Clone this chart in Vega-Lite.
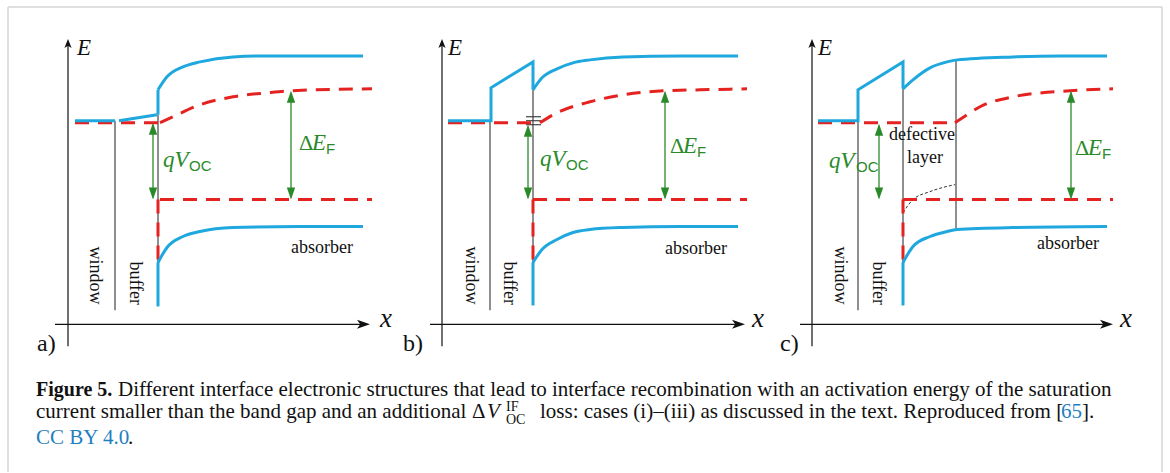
{
  "$schema": "https://vega.github.io/schema/vega-lite/v6.json",
  "width": 1170,
  "height": 473,
  "autosize": {"type": "fit", "contains": "padding"},
  "padding": 0,
  "background": "white",
  "config": {"view": {"stroke": null}},
  "datasets": {
    "frame": [
      {"x": 8, "y": 7, "x2": 1162, "y2": 7},
      {"x": 8, "y": 7, "x2": 8, "y2": 473},
      {"x": 1162, "y": 7, "x2": 1162, "y2": 473}
    ],
    "axes": [
      {"x": 68, "y": 44, "x2": 68, "y2": 347},
      {"x": 55, "y": 325, "x2": 364, "y2": 325},
      {"x": 442, "y": 44, "x2": 442, "y2": 347},
      {"x": 430, "y": 325, "x2": 739, "y2": 325},
      {"x": 812, "y": 44, "x2": 812, "y2": 347},
      {"x": 800, "y": 325, "x2": 1107, "y2": 325}
    ],
    "axisUp": [{"x": 68, "y": 39}, {"x": 442, "y": 39}, {"x": 812, "y": 39}],
    "axisRight": [{"x": 370, "y": 325}, {"x": 745, "y": 325}, {"x": 1113, "y": 325}],
    "thin": [
      {"x": 115, "y": 121, "x2": 115, "y2": 311},
      {"x": 158, "y": 115, "x2": 158, "y2": 307},
      {"x": 490, "y": 121, "x2": 490, "y2": 311},
      {"x": 533, "y": 90, "x2": 533, "y2": 306},
      {"x": 858, "y": 121, "x2": 858, "y2": 311},
      {"x": 903, "y": 89, "x2": 903, "y2": 306},
      {"x": 956, "y": 60, "x2": 956, "y2": 229},
      {"x": 526, "y": 117, "x2": 541, "y2": 117},
      {"x": 526, "y": 121, "x2": 541, "y2": 121},
      {"x": 526, "y": 125, "x2": 541, "y2": 125}
    ],
    "dotted": [
      {"x": 903, "y": 213}, {"x": 913, "y": 200}, {"x": 930, "y": 192}, {"x": 955, "y": 185}
    ],
    "blueStraight": [
      {"s": "a1", "o": 1, "x": 75, "y": 121}, {"s": "a1", "o": 2, "x": 115, "y": 121},
      {"s": "a2", "o": 1, "x": 119, "y": 121}, {"s": "a2", "o": 2, "x": 157, "y": 115},
      {"s": "a3", "o": 1, "x": 158, "y": 90}, {"s": "a3", "o": 2, "x": 158, "y": 115},
      {"s": "a4", "o": 1, "x": 158, "y": 263}, {"s": "a4", "o": 2, "x": 158, "y": 307},
      {"s": "b1", "o": 1, "x": 448, "y": 121}, {"s": "b1", "o": 2, "x": 491, "y": 121},
      {"s": "b1", "o": 3, "x": 491, "y": 88}, {"s": "b1", "o": 4, "x": 533, "y": 62},
      {"s": "b1", "o": 5, "x": 533, "y": 90},
      {"s": "b2", "o": 1, "x": 533, "y": 263}, {"s": "b2", "o": 2, "x": 533, "y": 306},
      {"s": "c1", "o": 1, "x": 818, "y": 121}, {"s": "c1", "o": 2, "x": 858, "y": 121},
      {"s": "c1", "o": 3, "x": 858, "y": 90}, {"s": "c1", "o": 4, "x": 903, "y": 62},
      {"s": "c1", "o": 5, "x": 903, "y": 89},
      {"s": "c2", "o": 1, "x": 903, "y": 263}, {"s": "c2", "o": 2, "x": 903, "y": 306}
    ],
    "blueCurve": [
      {"s": "acb", "x": 158, "y": 90}, {"s": "acb", "x": 167, "y": 77}, {"s": "acb", "x": 183, "y": 67},
      {"s": "acb", "x": 200, "y": 62}, {"s": "acb", "x": 233, "y": 57}, {"s": "acb", "x": 267, "y": 56},
      {"s": "acb", "x": 363, "y": 56},
      {"s": "avb", "x": 158, "y": 263}, {"s": "avb", "x": 167, "y": 248}, {"s": "avb", "x": 183, "y": 237},
      {"s": "avb", "x": 200, "y": 232}, {"s": "avb", "x": 233, "y": 228}, {"s": "avb", "x": 300, "y": 227},
      {"s": "avb", "x": 363, "y": 227},
      {"s": "bcb", "x": 533, "y": 90}, {"s": "bcb", "x": 542, "y": 78}, {"s": "bcb", "x": 557, "y": 69},
      {"s": "bcb", "x": 573, "y": 63}, {"s": "bcb", "x": 590, "y": 60}, {"s": "bcb", "x": 623, "y": 57},
      {"s": "bcb", "x": 680, "y": 56}, {"s": "bcb", "x": 738, "y": 56},
      {"s": "bvb", "x": 533, "y": 263}, {"s": "bvb", "x": 542, "y": 250}, {"s": "bvb", "x": 557, "y": 240},
      {"s": "bvb", "x": 573, "y": 233}, {"s": "bvb", "x": 590, "y": 230}, {"s": "bvb", "x": 623, "y": 228},
      {"s": "bvb", "x": 680, "y": 227}, {"s": "bvb", "x": 738, "y": 227},
      {"s": "ccb", "x": 903, "y": 89}, {"s": "ccb", "x": 913, "y": 80}, {"s": "ccb", "x": 930, "y": 68},
      {"s": "ccb", "x": 947, "y": 62}, {"s": "ccb", "x": 957, "y": 60}, {"s": "ccb", "x": 1013, "y": 57},
      {"s": "ccb", "x": 1060, "y": 56}, {"s": "ccb", "x": 1107, "y": 56},
      {"s": "cvb", "x": 903, "y": 263}, {"s": "cvb", "x": 913, "y": 247}, {"s": "cvb", "x": 930, "y": 237},
      {"s": "cvb", "x": 947, "y": 232}, {"s": "cvb", "x": 957, "y": 230}, {"s": "cvb", "x": 1013, "y": 228},
      {"s": "cvb", "x": 1107, "y": 227}
    ],
    "redStraight": [
      {"s": "a1", "o": 1, "x": 75, "y": 123}, {"s": "a1", "o": 2, "x": 160, "y": 123},
      {"s": "a2", "o": 1, "x": 160, "y": 200}, {"s": "a2", "o": 2, "x": 372, "y": 200},
      {"s": "a3", "o": 1, "x": 158, "y": 200}, {"s": "a3", "o": 2, "x": 158, "y": 263},
      {"s": "b1", "o": 1, "x": 448, "y": 123}, {"s": "b1", "o": 2, "x": 540, "y": 123},
      {"s": "b2", "o": 1, "x": 533, "y": 200}, {"s": "b2", "o": 2, "x": 747, "y": 200},
      {"s": "b3", "o": 1, "x": 533, "y": 200}, {"s": "b3", "o": 2, "x": 533, "y": 263},
      {"s": "c1", "o": 1, "x": 818, "y": 123}, {"s": "c1", "o": 2, "x": 955, "y": 123},
      {"s": "c2", "o": 1, "x": 903, "y": 200}, {"s": "c2", "o": 2, "x": 1113, "y": 200},
      {"s": "c3", "o": 1, "x": 903, "y": 200}, {"s": "c3", "o": 2, "x": 903, "y": 263}
    ],
    "redCurve": [
      {"s": "a", "x": 160, "y": 123}, {"s": "a", "x": 173, "y": 117}, {"s": "a", "x": 200, "y": 105},
      {"s": "a", "x": 233, "y": 97}, {"s": "a", "x": 267, "y": 93}, {"s": "a", "x": 290, "y": 91},
      {"s": "a", "x": 372, "y": 89},
      {"s": "b", "x": 540, "y": 123}, {"s": "b", "x": 557, "y": 113}, {"s": "b", "x": 590, "y": 102},
      {"s": "b", "x": 623, "y": 95}, {"s": "b", "x": 663, "y": 91}, {"s": "b", "x": 700, "y": 90},
      {"s": "b", "x": 747, "y": 89},
      {"s": "c", "x": 955, "y": 123}, {"s": "c", "x": 967, "y": 115}, {"s": "c", "x": 980, "y": 107},
      {"s": "c", "x": 1013, "y": 97}, {"s": "c", "x": 1070, "y": 91}, {"s": "c", "x": 1113, "y": 89}
    ],
    "greenShaft": [
      {"x": 153, "y": 125, "y2": 198}, {"x": 291, "y": 93, "y2": 198},
      {"x": 528, "y": 127, "y2": 198}, {"x": 665, "y": 93, "y2": 198},
      {"x": 879, "y": 126, "y2": 198}, {"x": 1071, "y": 93, "y2": 198}
    ],
    "greenUp": [
      {"x": 153, "y": 123}, {"x": 291, "y": 91}, {"x": 528, "y": 125},
      {"x": 665, "y": 91}, {"x": 879, "y": 124}, {"x": 1071, "y": 91}
    ],
    "greenDown": [
      {"x": 153, "y": 200}, {"x": 291, "y": 200}, {"x": 528, "y": 200},
      {"x": 665, "y": 200}, {"x": 879, "y": 200}, {"x": 1071, "y": 200}
    ],
    "axisE": [{"x": 77, "y": 55, "t": "E"}, {"x": 448, "y": 55, "t": "E"}, {"x": 818, "y": 55, "t": "E"}],
    "axisX": [{"x": 380, "y": 328, "t": "x"}, {"x": 752, "y": 328, "t": "x"}, {"x": 1120, "y": 328, "t": "x"}],
    "panel": [{"x": 37, "y": 352, "t": "a)"}, {"x": 403, "y": 352, "t": "b)"}, {"x": 780, "y": 352, "t": "c)"}],
    "rot": [
      {"x": 95, "y": 247, "t": "window"}, {"x": 135, "y": 262, "t": "buffer"},
      {"x": 471, "y": 247, "t": "window"}, {"x": 509, "y": 262, "t": "buffer"},
      {"x": 840, "y": 247, "t": "window"}, {"x": 878, "y": 262, "t": "buffer"}
    ],
    "labels": [
      {"x": 291, "y": 254, "t": "absorber"}, {"x": 665, "y": 255, "t": "absorber"},
      {"x": 1037, "y": 250, "t": "absorber"}, {"x": 889, "y": 140, "t": "defective"},
      {"x": 907, "y": 163, "t": "layer"}
    ],
    "greenItalic": [
      {"x": 163, "y": 167, "t": "qV"}, {"x": 540, "y": 166, "t": "qV"}, {"x": 829, "y": 168, "t": "qV"},
      {"x": 312, "y": 150, "t": "E"}, {"x": 683, "y": 153, "t": "E"}, {"x": 1088, "y": 155, "t": "E"}
    ],
    "greenDelta": [{"x": 299, "y": 150, "t": "Δ"}, {"x": 670, "y": 153, "t": "Δ"}, {"x": 1075, "y": 155, "t": "Δ"}],
    "greenSub": [
      {"x": 189, "y": 171, "t": "OC"}, {"x": 566, "y": 170, "t": "OC"}, {"x": 856, "y": 172, "t": "OC"},
      {"x": 326, "y": 154, "t": "F"}, {"x": 697, "y": 157, "t": "F"}, {"x": 1102, "y": 159, "t": "F"}
    ],
    "capBold": [{"x": 36, "y": 397, "t": "Figure 5."}],
    "capReg": [
      {"x": 118, "y": 397, "t": "Different interface electronic structures that lead to interface recombination with an activation energy of the saturation"},
      {"x": 36, "y": 419, "t": "current smaller than the band gap and an additional"},
      {"x": 472, "y": 419, "t": "Δ"},
      {"x": 540, "y": 419, "t": "loss: cases (i)–(iii) as discussed in the text. Reproduced from ["},
      {"x": 1082, "y": 419, "t": "]."},
      {"x": 128, "y": 445, "t": "."}
    ],
    "capItal": [{"x": 487, "y": 419, "t": "V"}],
    "capSmall": [{"x": 506, "y": 412, "t": "IF"}, {"x": 506, "y": 425, "t": "OC"}],
    "capBlue": [{"x": 1061, "y": 419, "t": "65"}, {"x": 36, "y": 445, "t": "CC BY 4.0"}]
  },
  "encoding": {
    "x": {"field": "x", "type": "quantitative", "scale": {"domain": [0, 1170], "nice": false, "zero": false}, "axis": null},
    "y": {"field": "y", "type": "quantitative", "scale": {"domain": [473, 0], "nice": false, "zero": false}, "axis": null}
  },
  "layer": [
    {"data": {"name": "frame"}, "mark": {"type": "rule", "color": "#d4d4d4", "strokeWidth": 1.5},
     "encoding": {"x2": {"field": "x2"}, "y2": {"field": "y2"}}},
    {"data": {"name": "axes"}, "mark": {"type": "rule", "color": "#111111", "strokeWidth": 1.2},
     "encoding": {"x2": {"field": "x2"}, "y2": {"field": "y2"}}},
    {"data": {"name": "axisUp"}, "mark": {"type": "point", "shape": "M0,0L-0.4,1L0,0.75L0.4,1Z", "size": 324, "filled": true, "color": "#111111", "opacity": 1, "strokeWidth": 0}},
    {"data": {"name": "axisRight"}, "mark": {"type": "point", "shape": "M0,0L-1,-0.35L-0.75,0L-1,0.35Z", "size": 676, "filled": true, "color": "#111111", "opacity": 1, "strokeWidth": 0}},
    {"data": {"name": "thin"}, "mark": {"type": "rule", "color": "#333333", "strokeWidth": 1.1},
     "encoding": {"x2": {"field": "x2"}, "y2": {"field": "y2"}}},
    {"data": {"name": "dotted"}, "mark": {"type": "line", "interpolate": "monotone", "color": "#333333", "strokeWidth": 1, "strokeDash": [3, 2]}},
    {"data": {"name": "redStraight"}, "mark": {"type": "line", "color": "#e42320", "strokeWidth": 3, "strokeDash": [14, 9]},
     "encoding": {"detail": {"field": "s"}, "order": {"field": "o"}}},
    {"data": {"name": "redCurve"}, "mark": {"type": "line", "interpolate": "monotone", "color": "#e42320", "strokeWidth": 3, "strokeDash": [14, 9]},
     "encoding": {"detail": {"field": "s"}}},
    {"data": {"name": "blueStraight"}, "mark": {"type": "line", "color": "#1fa8de", "strokeWidth": 3, "strokeJoin": "miter"},
     "encoding": {"detail": {"field": "s"}, "order": {"field": "o"}}},
    {"data": {"name": "blueCurve"}, "mark": {"type": "line", "interpolate": "monotone", "color": "#1fa8de", "strokeWidth": 3},
     "encoding": {"detail": {"field": "s"}}},
    {"data": {"name": "greenShaft"}, "mark": {"type": "rule", "color": "#2a8a2a", "strokeWidth": 1.3},
     "encoding": {"y2": {"field": "y2"}}},
    {"data": {"name": "greenUp"}, "mark": {"type": "point", "shape": "M0,0L-0.35,1L0.35,1Z", "size": 576, "filled": true, "color": "#2a8a2a", "opacity": 1, "strokeWidth": 0}},
    {"data": {"name": "greenDown"}, "mark": {"type": "point", "shape": "M0,0L-0.35,-1L0.35,-1Z", "size": 576, "filled": true, "color": "#2a8a2a", "opacity": 1, "strokeWidth": 0}},
    {"data": {"name": "axisE"}, "mark": {"type": "text", "align": "left", "baseline": "alphabetic", "font": "Liberation Serif", "fontStyle": "italic", "fontSize": 23, "color": "#111111"},
     "encoding": {"text": {"field": "t"}}},
    {"data": {"name": "axisX"}, "mark": {"type": "text", "align": "left", "baseline": "alphabetic", "font": "Liberation Serif", "fontStyle": "italic", "fontSize": 27, "color": "#111111"},
     "encoding": {"text": {"field": "t"}}},
    {"data": {"name": "panel"}, "mark": {"type": "text", "align": "left", "baseline": "alphabetic", "font": "Liberation Serif", "fontSize": 24, "color": "#111111"},
     "encoding": {"text": {"field": "t"}}},
    {"data": {"name": "rot"}, "mark": {"type": "text", "align": "left", "baseline": "middle", "angle": 90, "font": "Liberation Serif", "fontSize": 18, "color": "#111111"},
     "encoding": {"text": {"field": "t"}}},
    {"data": {"name": "labels"}, "mark": {"type": "text", "align": "left", "baseline": "alphabetic", "font": "Liberation Serif", "fontSize": 18, "color": "#111111"},
     "encoding": {"text": {"field": "t"}}},
    {"data": {"name": "greenItalic"}, "mark": {"type": "text", "align": "left", "baseline": "alphabetic", "font": "Liberation Serif", "fontStyle": "italic", "fontSize": 23, "color": "#2a8a2a"},
     "encoding": {"text": {"field": "t"}}},
    {"data": {"name": "greenDelta"}, "mark": {"type": "text", "align": "left", "baseline": "alphabetic", "font": "Liberation Serif", "fontSize": 22, "color": "#2a8a2a"},
     "encoding": {"text": {"field": "t"}}},
    {"data": {"name": "greenSub"}, "mark": {"type": "text", "align": "left", "baseline": "alphabetic", "font": "Liberation Sans", "fontSize": 15, "color": "#2a8a2a"},
     "encoding": {"text": {"field": "t"}}},
    {"data": {"name": "capBold"}, "mark": {"type": "text", "align": "left", "baseline": "alphabetic", "font": "Liberation Serif", "fontWeight": "bold", "fontSize": 20, "color": "#111111"},
     "encoding": {"text": {"field": "t"}}},
    {"data": {"name": "capReg"}, "mark": {"type": "text", "align": "left", "baseline": "alphabetic", "font": "Liberation Serif", "fontSize": 21, "color": "#111111"},
     "encoding": {"text": {"field": "t"}}},
    {"data": {"name": "capItal"}, "mark": {"type": "text", "align": "left", "baseline": "alphabetic", "font": "Liberation Serif", "fontStyle": "italic", "fontSize": 21, "color": "#111111"},
     "encoding": {"text": {"field": "t"}}},
    {"data": {"name": "capSmall"}, "mark": {"type": "text", "align": "left", "baseline": "alphabetic", "font": "Liberation Serif", "fontSize": 14, "color": "#111111"},
     "encoding": {"text": {"field": "t"}}},
    {"data": {"name": "capBlue"}, "mark": {"type": "text", "align": "left", "baseline": "alphabetic", "font": "Liberation Serif", "fontSize": 21, "color": "#1f7fbf"},
     "encoding": {"text": {"field": "t"}}}
  ]
}
